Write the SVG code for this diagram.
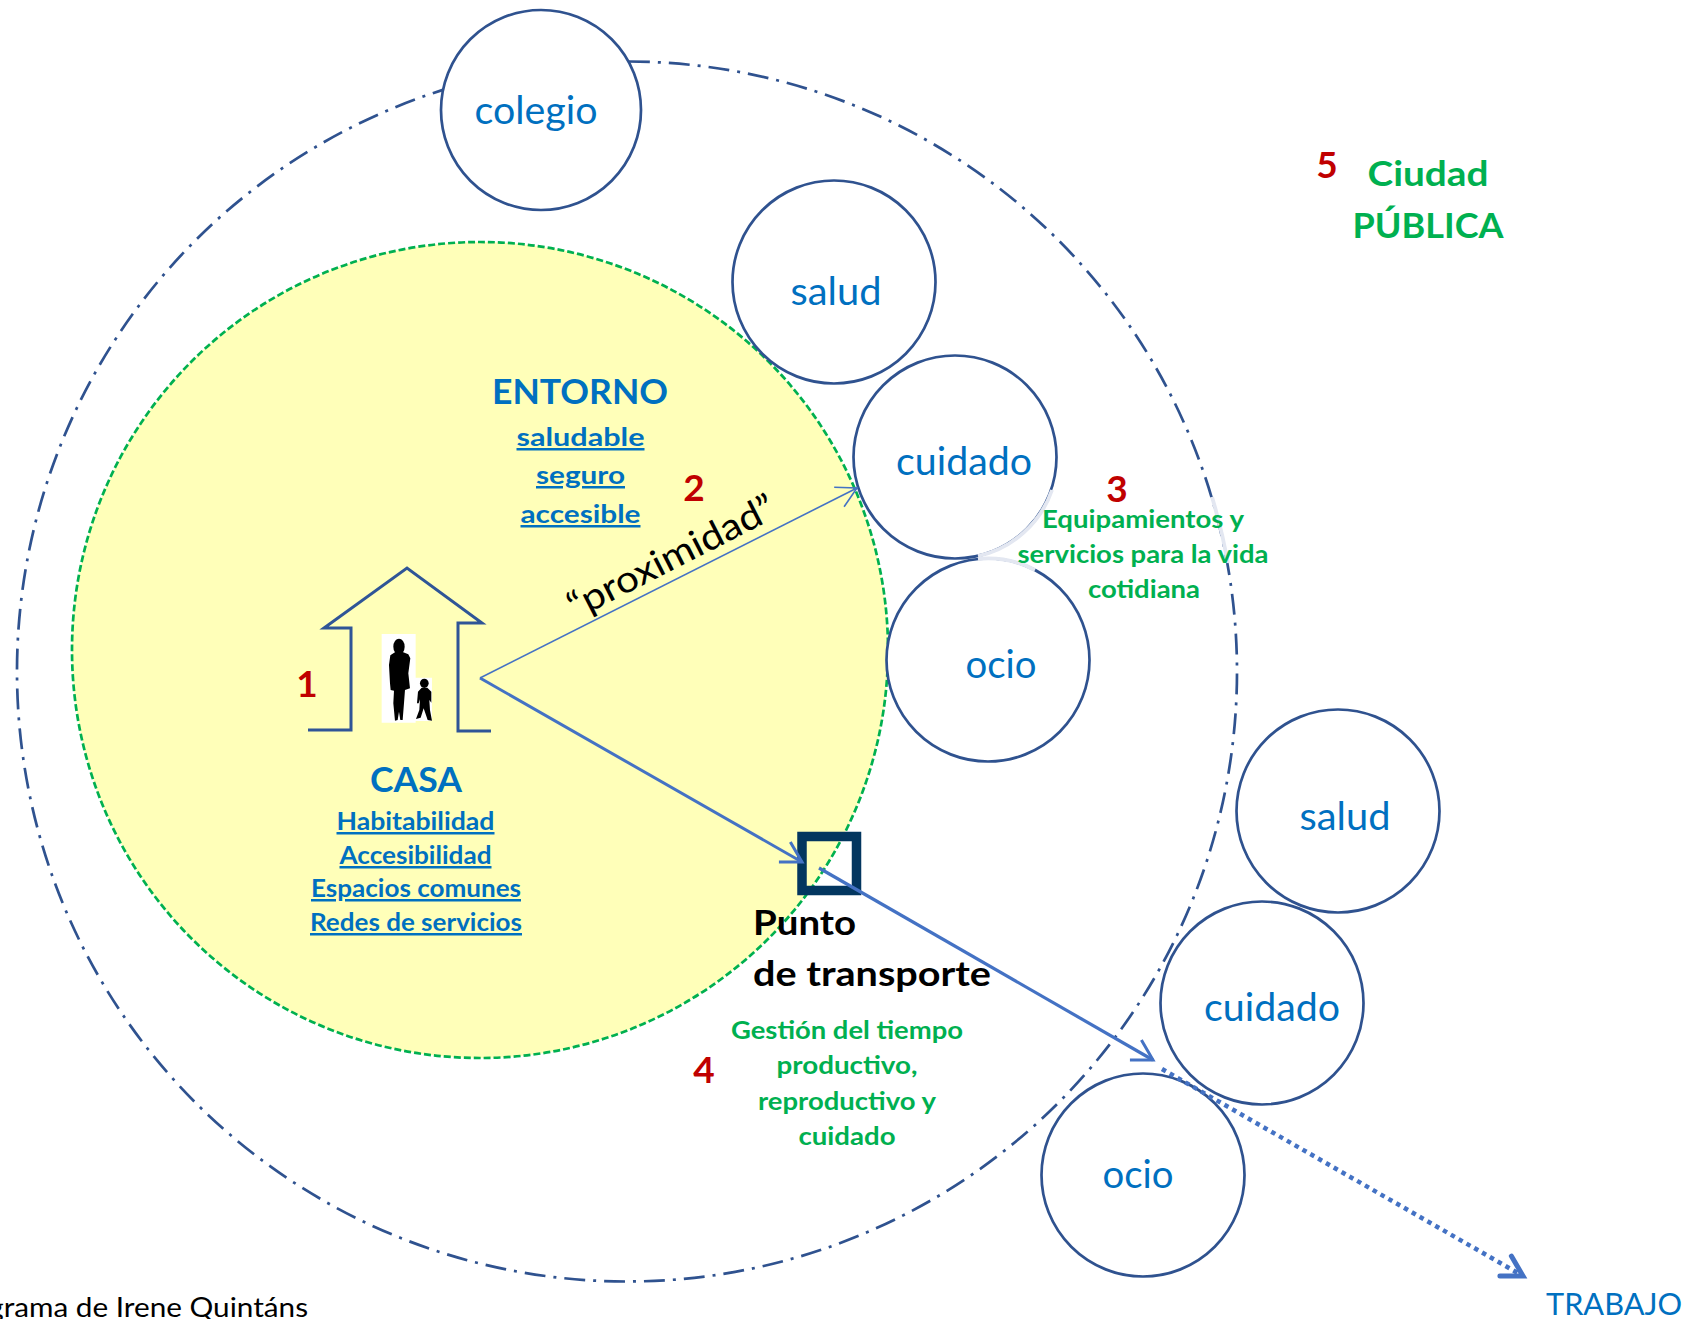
<svg xmlns="http://www.w3.org/2000/svg" width="1701" height="1319" viewBox="0 0 1701 1319">
<style>
text{font-family:"Lato","Carlito","Liberation Sans",sans-serif}
.node{fill:#fff;stroke:#2f528f;stroke-width:2.7}
.n{font-size:39px;fill:#0070c0;text-anchor:middle}
.h{font-size:34px;font-weight:700;text-anchor:middle}
.s{font-size:25px;font-weight:700;fill:#0070c0;text-anchor:middle;text-decoration:underline}
.g{font-size:25px;font-weight:700;fill:#00b050;text-anchor:middle}
.r{font-size:37px;font-weight:700;fill:#c00000;text-anchor:middle}
.c{fill:none;stroke:#4472c4}
.fade{fill:none;stroke:#e3e7f1;stroke-width:3.8}
</style>
<defs>
<marker id="open" markerUnits="userSpaceOnUse" markerWidth="40" markerHeight="40" refX="30" refY="20" orient="auto" overflow="visible"><path d="M10 8.500 L30 20 L10 31.500" fill="none" stroke="#4472c4" stroke-width="3"/></marker>
<marker id="openthin" markerUnits="userSpaceOnUse" markerWidth="40" markerHeight="40" refX="30" refY="20" orient="auto" overflow="visible"><path d="M10 9 L30 20 L10 31" fill="none" stroke="#4472c4" stroke-width="1.600"/></marker>
<marker id="openbold" markerUnits="userSpaceOnUse" markerWidth="40" markerHeight="40" refX="30" refY="20" orient="auto" overflow="visible"><path d="M10 8.500 L30 20 L10 31.500" fill="none" stroke="#4472c4" stroke-width="5" stroke-linecap="round"/></marker>
</defs>
<rect width="1701" height="1319" fill="#fff"/>
<g id="ciudad">
<circle cx="627" cy="671.5" r="610" fill="none" stroke="#2f528f" stroke-width="2.700" stroke-dasharray="20.92 8 3 8" stroke-dashoffset="-2"/>
<path class="fade" d="M1212 497 A610 610 0 0 1 1228 563"/>
</g>
<g id="entorno"><circle cx="480" cy="650" r="408" fill="#ffffb9" stroke="#00b050" stroke-width="2.700" stroke-dasharray="7 3"/></g>
<g id="colegio"><circle class="node" cx="541" cy="110" r="100"/><text class="n" x="536" y="124" textLength="123" lengthAdjust="spacingAndGlyphs">colegio</text></g>
<g id="salud1"><circle class="node" cx="834" cy="282" r="101.5"/><text class="n" x="836" y="305" textLength="91" lengthAdjust="spacingAndGlyphs">salud</text></g>
<g id="cuidado1"><circle class="node" cx="955" cy="457" r="101.5"/><path class="fade" d="M1052 490 A101.5 101.5 0 0 1 978 556"/><text class="n" x="964" y="475" textLength="136" lengthAdjust="spacingAndGlyphs">cuidado</text></g>
<g id="ocio1"><circle class="node" cx="988" cy="660" r="101.5"/><path class="fade" d="M978 559 A101.5 101.5 0 0 1 1035 570"/><text class="n" x="1001" y="678" textLength="71" lengthAdjust="spacingAndGlyphs">ocio</text></g>
<g id="salud2"><circle class="node" cx="1338" cy="811" r="101.5"/><text class="n" x="1345" y="830" textLength="91" lengthAdjust="spacingAndGlyphs">salud</text></g>
<g id="cuidado2"><circle class="node" cx="1262" cy="1003" r="101.5"/><text class="n" x="1272" y="1021" textLength="136" lengthAdjust="spacingAndGlyphs">cuidado</text></g>
<g id="ocio2"><circle class="node" cx="1143" cy="1175" r="101.5"/><text class="n" x="1138" y="1188" textLength="71" lengthAdjust="spacingAndGlyphs">ocio</text></g>
<g id="casa">
<path d="M308 730 H351 V628 H324 L407 568 L482 623 H458 V731 H491" fill="none" stroke="#2f5597" stroke-width="3"/>
<g transform="translate(280 540) scale(.3333)">
<path fill="#fff" d="M305 282H407V413H456V543H407V548H305Z"/>
<ellipse cx="357" cy="320" rx="17" ry="24"/>
<path d="M346 336 L331 346 L327 375 L330 430 L332 450 L342 452 L340 490 L345 542 L353 540 L357 515 L361 540 L368 540 L372 490 L375 450 L390 445 L385 400 L391 355 L385 343 L368 336Z"/>
<ellipse cx="433" cy="430" rx="13" ry="14"/>
<path d="M425 443 L414 455 L411 490 L416 490 L420 478 L418 510 L408 537 L422 533 L431 505 L443 540 L456 542 L450 510 L448 480 L454 488 L454 455 L442 443Z"/>
</g>
<text class="r" x="307" y="697">1</text>
<text class="h" x="416" y="792" fill="#0070c0" textLength="92" lengthAdjust="spacingAndGlyphs">CASA</text>
<text class="s" x="415.500" y="830" textLength="158" lengthAdjust="spacingAndGlyphs">Habitabilidad</text>
<text class="s" x="415.500" y="864" textLength="152" lengthAdjust="spacingAndGlyphs">Accesibilidad</text>
<text class="s" x="416" y="897" textLength="210" lengthAdjust="spacingAndGlyphs">Espacios comunes</text>
<text class="s" x="416" y="931" textLength="212" lengthAdjust="spacingAndGlyphs">Redes de servicios</text>
</g>
<g id="entorno-text">
<text class="h" x="580" y="404" fill="#0070c0" textLength="176" lengthAdjust="spacingAndGlyphs">ENTORNO</text>
<text class="s" x="580.500" y="446" textLength="128" lengthAdjust="spacingAndGlyphs">saludable</text>
<text class="s" x="580.500" y="484" textLength="89" lengthAdjust="spacingAndGlyphs">seguro</text>
<text class="s" x="580.500" y="523" textLength="120" lengthAdjust="spacingAndGlyphs">accesible</text>
<text class="r" x="694" y="501">2</text>
<text transform="translate(677 568) rotate(-27)" text-anchor="middle" font-size="37" fill="#000" textLength="228" lengthAdjust="spacingAndGlyphs">“proximidad”</text>
</g>
<g id="punto">
<rect x="802" y="836.5" width="54.500" height="54" fill="none" stroke="#03365f" stroke-width="9.500"/>
</g>
<g id="connectors">
<line class="c" x1="480" y1="678" x2="857" y2="488" stroke-width="1.600" marker-end="url(#openthin)"/>
<line class="c" x1="480" y1="678" x2="802" y2="862" stroke-width="3" marker-end="url(#open)"/>
<line class="c" x1="819" y1="868" x2="1153" y2="1060" stroke-width="3.200" marker-end="url(#open)"/>
<line class="c" x1="1162" y1="1069" x2="1523" y2="1276" stroke-width="4.500" stroke-dasharray="4.500 4.500" marker-end="url(#openbold)"/>
</g>
<g id="punto-text">
<text class="h" x="753" y="935" fill="#000" style="text-anchor:start" textLength="103" lengthAdjust="spacingAndGlyphs">Punto</text>
<text class="h" x="753" y="986" fill="#000" style="text-anchor:start" textLength="238" lengthAdjust="spacingAndGlyphs">de transporte</text>
<text class="r" x="704" y="1083">4</text>
<text class="g" x="847" y="1039" textLength="232" lengthAdjust="spacingAndGlyphs">Gestión del tiempo</text>
<text class="g" x="847" y="1074" textLength="141" lengthAdjust="spacingAndGlyphs">productivo,</text>
<text class="g" x="847" y="1110" textLength="178" lengthAdjust="spacingAndGlyphs">reproductivo y</text>
<text class="g" x="847" y="1145" textLength="97" lengthAdjust="spacingAndGlyphs">cuidado</text>
</g>
<g id="equipamientos">
<text class="r" x="1117" y="502">3</text>
<text class="g" x="1143" y="528" textLength="202" lengthAdjust="spacingAndGlyphs">Equipamientos y</text>
<text class="g" x="1143" y="563" textLength="251" lengthAdjust="spacingAndGlyphs">servicios para la vida</text>
<text class="g" x="1144" y="598" textLength="112" lengthAdjust="spacingAndGlyphs">cotidiana</text>
</g>
<g id="ciudad-text">
<text class="r" x="1327" y="178">5</text>
<text class="h" x="1428" y="186" fill="#00b050" textLength="121" lengthAdjust="spacingAndGlyphs">Ciudad</text>
<text class="h" x="1428" y="238" fill="#00b050" textLength="151" lengthAdjust="spacingAndGlyphs">PÚBLICA</text>
</g>
<g id="trabajo"><text x="1614" y="1315" font-size="30" fill="#0070c0" text-anchor="middle" textLength="136" lengthAdjust="spacingAndGlyphs">TRABAJO</text></g>
<g id="credito"><text x="-56" y="1317" font-size="26" fill="#000" textLength="364" lengthAdjust="spacingAndGlyphs">Diagrama de Irene Quintáns</text></g>
</svg>
